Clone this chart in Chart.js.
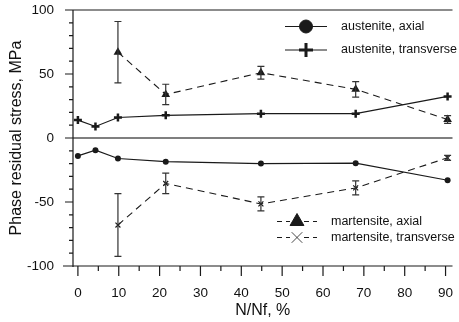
<!DOCTYPE html>
<html>
<head>
<meta charset="utf-8">
<script src="https://cdn.jsdelivr.net/npm/chart.js@4.4.1/dist/chart.umd.min.js"></script>
<style>
  html, body { margin: 0; padding: 0; background: #fff; }
  #wrap { width: 459px; height: 322px; }
</style>
</head>
<body>
<div id="wrap"><canvas id="myChart"></canvas></div>
<script>
// N/Nf, % positions
var nNf = [0, 4.3, 9.8, 21.5, 44.8, 68, 90.5];
var austeniteAxial = [-14, -9.5, -16, -18.5, -20, -19.7, -33];
var austeniteTransverse = [14, 9, 16, 17.7, 19, 19, 32.5];

var martNNf = [9.8, 21.5, 44.8, 68, 90.5];
var martensiteAxial = [67, 34, 51, 38, 14.5];
var martensiteAxialErr = [24, 8, 5, 6, 3];
var martensiteTransverse = [-68, -35.5, -51.5, -39, -15.5];
var martensiteTransverseErr = [24.5, 8, 5.5, 5.5, 2];

var xTicks = [0, 10, 20, 30, 40, 50, 60, 70, 80, 90];
var yTicks = [-100, -50, 0, 50, 100];

var FONT = "'Liberation Sans', Arial, sans-serif";
var INK = '#1a1a1a';

function pts(xs, ys) {
  return xs.map(function(x, i){ return {x: x, y: ys[i]}; });
}

// error bars for the martensite series
var errorBars = {
  id: 'errorBars',
  afterDatasetsDraw: function(chart) {
    var c = chart.ctx, xs = chart.scales.x, ys = chart.scales.y;
    c.save();
    c.strokeStyle = '#333';
    c.lineWidth = 1.2;
    chart.data.datasets.forEach(function(ds){
      if (!ds.errors) return;
      ds.data.forEach(function(p, i){
        var px = xs.getPixelForValue(p.x);
        var top = ys.getPixelForValue(p.y + ds.errors[i]);
        var bot = ys.getPixelForValue(p.y - ds.errors[i]);
        c.beginPath();
        c.moveTo(px, top); c.lineTo(px, bot);
        c.moveTo(px - 3.5, top); c.lineTo(px + 3.5, top);
        c.moveTo(px - 3.5, bot); c.lineTo(px + 3.5, bot);
        c.stroke();
      });
    });
    c.restore();
  }
};

// frame, zero line and tick marks
var frame = {
  id: 'frame',
  beforeDatasetsDraw: function(chart) {
    var c = chart.ctx, a = chart.chartArea, xs = chart.scales.x, ys = chart.scales.y;
    c.save();
    // zero line
    c.strokeStyle = '#555';
    c.lineWidth = 1.5;
    var y0 = ys.getPixelForValue(0);
    c.beginPath(); c.moveTo(a.left, y0); c.lineTo(a.right, y0); c.stroke();

    c.strokeStyle = INK;
    c.lineWidth = 1.2;
    c.beginPath();
    c.moveTo(a.left, a.bottom + 1); c.lineTo(a.left, a.top);
    c.lineTo(a.right, a.top);
    c.moveTo(a.left - 10, a.bottom); c.lineTo(a.right, a.bottom);
    for (var v = -100; v <= 100; v += 10) {
      var py = ys.getPixelForValue(v);
      var len = (v % 50 === 0) ? 8 : 4;
      c.moveTo(a.left - len, py); c.lineTo(a.left, py);
    }
    for (var u = 0; u <= 90; u += 5) {
      var px = xs.getPixelForValue(u);
      var l2 = (u % 10 === 0) ? 10 : 5;
      c.moveTo(px, a.bottom); c.lineTo(px, a.bottom + l2);
    }
    c.stroke();
    c.restore();
  }
};

// two legend boxes
var legendBoxes = {
  id: 'legendBoxes',
  afterDraw: function(chart) {
    var c = chart.ctx, ds = chart.data.datasets;
    var rows = [
      {ds: ds[0], x: 285, y: 26.5, dash: [], w: 42, r: 6.5, bw: 1},
      {ds: ds[1], x: 285, y: 50, dash: [], w: 42, r: 7, bw: 3},
      {ds: ds[2], x: 277, y: 221.5, dash: [5, 4], w: 40, r: 8, bw: 1},
      {ds: ds[3], x: 277, y: 237.5, dash: [5, 4], w: 40, r: 7.5, bw: 0.8}
    ];
    c.save();
    rows.forEach(function(rw, i){
      c.strokeStyle = INK;
      c.lineWidth = 1;
      c.setLineDash(rw.dash);
      c.beginPath(); c.moveTo(rw.x, rw.y); c.lineTo(rw.x + rw.w, rw.y); c.stroke();
      c.setLineDash([]);
      c.fillStyle = '#fff';
      if (i >= 2) c.fillRect(rw.x + rw.w / 2 - 7, rw.y - 8, 14, 16);
      c.fillStyle = INK;
      c.strokeStyle = INK;
      c.lineWidth = rw.bw;
      Chart.helpers.drawPoint(c, {pointStyle: rw.ds.pointStyle, radius: rw.r, rotation: 0, borderWidth: rw.bw},
        rw.x + rw.w / 2, rw.y);
      c.fillStyle = '#111';
      c.font = '12.5px ' + FONT;
      c.textBaseline = 'middle';
      c.textAlign = 'left';
      c.fillText(rw.ds.label, i >= 2 ? 331 : 341, rw.y);
    });
    c.restore();
  }
};

var ctx = document.getElementById('myChart').getContext('2d');
var myChart = new Chart(ctx, {
  type: 'scatter',
  data: {
    datasets: [{
      label: 'austenite, axial',
      data: pts(nNf, austeniteAxial),
      showLine: true,
      borderColor: INK, backgroundColor: INK, borderWidth: 1.2,
      pointStyle: 'circle', pointRadius: 3, pointBorderWidth: 0
    }, {
      label: 'austenite, transverse',
      data: pts(nNf, austeniteTransverse),
      showLine: true,
      borderColor: INK, backgroundColor: INK, borderWidth: 1.2,
      pointStyle: 'cross', pointRadius: 4, pointBorderWidth: 2.5
    }, {
      label: 'martensite, axial',
      data: pts(martNNf, martensiteAxial),
      errors: martensiteAxialErr,
      showLine: true,
      borderColor: INK, backgroundColor: INK, borderWidth: 1.1,
      borderDash: [7, 5],
      pointStyle: 'triangle', pointRadius: 5, pointBorderWidth: 0
    }, {
      label: 'martensite, transverse',
      data: pts(martNNf, martensiteTransverse),
      errors: martensiteTransverseErr,
      showLine: true,
      borderColor: INK, backgroundColor: INK, borderWidth: 1.1,
      borderDash: [7, 5],
      pointStyle: 'crossRot', pointRadius: 3.5, pointBorderWidth: 1.2
    }]
  },
  options: {
    responsive: true,
    maintainAspectRatio: false,
    animation: false,
    layout: { padding: { top: 10, right: 0, left: 0, bottom: 0 } },
    plugins: { legend: { display: false }, tooltip: { enabled: false } },
    scales: {
      x: {
        type: 'linear', min: -1.2, max: 91.7,
        afterBuildTicks: function(s){ s.ticks = xTicks.map(function(v){ return {value: v}; }); },
        afterFit: function(s){ s.height = 56; s.paddingLeft = 0; s.paddingRight = 0; },
        grid: { display: true, drawOnChartArea: false, drawTicks: true, tickLength: 10, color: 'rgba(0,0,0,0)' },
        border: { display: false },
        ticks: { color: '#111', padding: 9, maxRotation: 0, font: { family: FONT, size: 13.5 } },
        title: { display: true, text: 'N/Nf, %', color: '#111', padding: { top: 0, bottom: 2 }, font: { family: FONT, size: 16 } }
      },
      y: {
        type: 'linear', min: -100, max: 100,
        afterBuildTicks: function(s){ s.ticks = yTicks.map(function(v){ return {value: v}; }); },
        afterFit: function(s){ s.width = 73; s.paddingTop = 0; s.paddingBottom = 0; },
        grid: { display: true, drawOnChartArea: false, drawTicks: true, tickLength: 8, color: 'rgba(0,0,0,0)' },
        border: { display: false },
        ticks: { color: '#111', padding: 11, font: { family: FONT, size: 13.5 } },
        title: { display: true, text: 'Phase residual stress, MPa', color: '#111', padding: { top: 7, bottom: 0 }, font: { family: FONT, size: 16 } }
      }
    }
  },
  plugins: [frame, errorBars, legendBoxes]
});
</script>
</body>
</html>
